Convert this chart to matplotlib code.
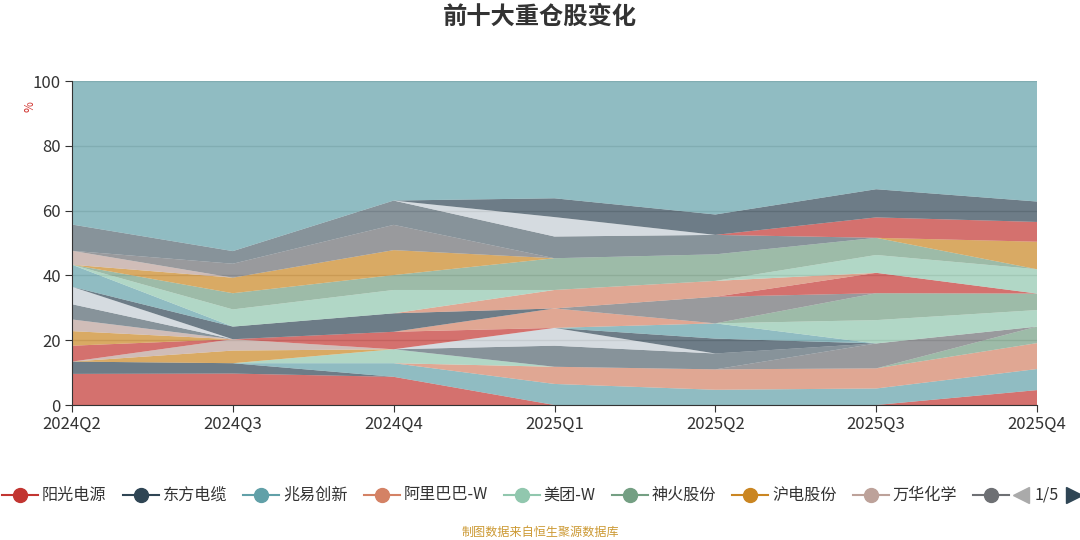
import numpy as np
import matplotlib.pyplot as plt
from matplotlib.lines import Line2D

plt.rcParams['font.family'] = ['Noto Sans CJK SC', 'DejaVu Sans']

quarters = ['2024Q2', '2024Q3', '2024Q4', '2025Q1', '2025Q2', '2025Q3', '2025Q4']

# first legend page (the 9th entry is cut off in the original)
stock_names = ['阳光电源', '东方电缆', '兆易创新', '阿里巴巴-W', '美团-W', '神火股份', '沪电股份', '万华化学']

# weight (%) of each holding per quarter, in series order; 0 = not in top ten
holdings = [
    [9.6, 9.7, 8.7, 0, 0, 0, 4.6],     # 阳光电源
    [3.8, 3.2, 0, 0, 0, 0, 0],         # 东方电缆
    [0, 0, 4.2, 6.5, 4.7, 5.1, 6.5],   # 兆易创新
    [0, 0, 0, 5.3, 6.3, 6.2, 8.0],     # 阿里巴巴-W
    [0, 0, 4.3, 0, 0, 0, 0],           # 美团-W
    [0, 0, 0, 0, 0, 0, 5.1],           # 神火股份
    [0, 3.9, 0, 0, 0, 0, 0],           # 沪电股份
    [0, 3.5, 0, 0, 0, 0, 0],           # 万华化学
    [0, 0, 0, 0, 0, 7.7, 0],
    [0, 0, 0, 6.5, 4.9, 0, 0],
    [0, 0, 0, 5.5, 0, 0, 0],
    [4.9, 0, 5.4, 0, 0, 0, 0],
    [0, 0, 0, 0, 4.6, 0, 0],
    [0, 0, 0, 0, 4.7, 0, 0],
    [0, 0, 0, 6.0, 0, 0, 0],
    [0, 0, 0, 0, 0, 7.2, 5.1],
    [0, 0, 0, 0, 0, 8.3, 5.1],
    [4.5, 0, 0, 0, 0, 0, 0],
    [3.6, 0, 0, 0, 0, 0, 0],
    [0, 0, 0, 0, 8.2, 0, 0],
    [4.7, 0, 0, 0, 0, 0, 0],
    [5.4, 0, 0, 0, 0, 0, 0],
    [0, 0, 0, 0, 0, 6.3, 0],
    [0, 3.9, 5.7, 0, 0, 0, 0],
    [6.8, 0, 0, 0, 0, 0, 0],
    [0, 0, 0, 5.7, 4.9, 0, 0],
    [0, 5.3, 7.2, 0, 0, 5.5, 7.5],
    [0, 5.0, 4.6, 9.8, 8.2, 5.3, 0],
    [0, 4.8, 7.7, 0, 0, 0, 8.5],
    [4.3, 0, 0, 0, 0, 0, 0],
    [0, 4.3, 7.8, 0, 0, 0, 0],
    [8.1, 3.9, 7.5, 6.7, 6.0, 0, 0],
    [0, 0, 0, 6.0, 0, 0, 0],
    [0, 0, 0, 0, 0, 6.3, 6.1],
    [0, 0, 0, 5.8, 6.3, 8.7, 6.3],
]
others = 100 - np.sum(holdings, axis=0)

palette = ['#c23531', '#2f4554', '#61a0a8', '#d48265', '#91c7ae', '#749f83',
           '#ca8622', '#bda29a', '#6e7074', '#546570', '#c4ccd3']

W, H = 1080, 540
fig = plt.figure(figsize=(W / 100, H / 100), dpi=100)
ax = fig.add_axes([72 / W, 135 / H, 965 / W, 324 / H])

rows = list(holdings) + [others]
colors = [palette[i % len(palette)] for i in range(len(rows))]
x = np.arange(len(quarters))
ax.stackplot(x, rows, colors=colors, alpha=0.7, linewidth=0)

ax.set_xlim(0, len(quarters) - 1)
ax.set_ylim(0, 100)
ax.set_yticks(range(0, 101, 20))
ax.set_xticks(x)
ax.set_xticklabels(quarters)
ax.set_axisbelow(True)
ax.grid(axis='y', color='#cccccc', lw=1)
for side in ['top', 'right']:
    ax.spines[side].set_visible(False)
for side in ['left', 'bottom']:
    ax.spines[side].set_color('#333333')
ax.tick_params(length=5, color='#333333', labelcolor='#333333', labelsize=12, pad=3)

fig.text(0.5, 1 - 17 / H, '前十大重仓股变化', ha='center', va='center',
         fontsize=17.5, fontweight='bold', color='#333333')
fig.text(30 / W, 1 - 107 / H, '%', rotation=90, ha='center', va='center',
         fontsize=8.5, color='#d0312d')

# legend row, laid out like the paged echarts legend
fig.canvas.draw()
renderer = fig.canvas.get_renderer()
yl = 1 - 495 / H
xpos = 2
for i, name in enumerate(stock_names + [None]):
    c = palette[i]
    fig.add_artist(Line2D([xpos / W, (xpos + 36) / W], [yl, yl], color=c, lw=1.5,
                          transform=fig.transFigure))
    fig.add_artist(Line2D([(xpos + 18) / W], [yl], marker='o', ms=10, color=c,
                          transform=fig.transFigure))
    if name is None:
        break
    t = fig.text((xpos + 40) / W, yl, name, ha='left', va='center',
                 fontsize=11.6, color='#333333')
    w = t.get_window_extent(renderer).width
    xpos += 40 + w + 16

fig.add_artist(Line2D([1021 / W], [yl], marker='<', ms=11, color='#aaaaaa',
                      transform=fig.transFigure))
fig.text(1047 / W, yl, '1/5', ha='center', va='center', fontsize=11.6, color='#333333')
fig.add_artist(Line2D([1074 / W], [yl], marker='>', ms=11, color='#2f4554',
                      transform=fig.transFigure))

fig.text(0.5, 1 - 532 / H, '制图数据来自恒生聚源数据库', ha='center', va='center',
         fontsize=8.7, color='#cc9933')

fig.savefig('out.png', dpi=100)
